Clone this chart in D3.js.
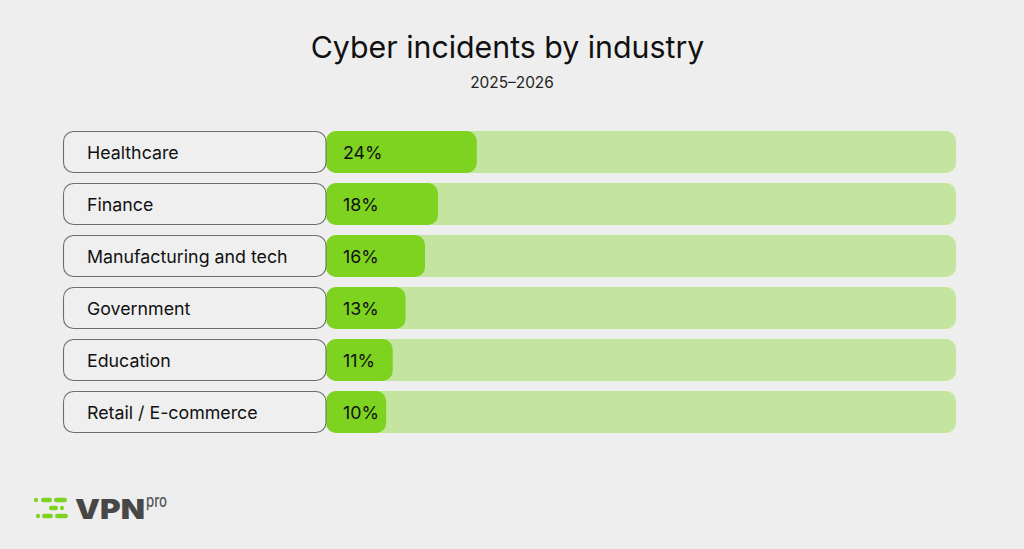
<!DOCTYPE html>
<html>
<head>
<meta charset="utf-8">
<script src="https://cdn.jsdelivr.net/npm/d3@7"></script>
<style>
  html, body { margin: 0; padding: 0; background: #eeeeee; }
  svg { display: block; }
  text { font-family: Inter, "Noto Sans", sans-serif; }
</style>
</head>
<body>
<svg id="chart" width="1024" height="549"></svg>
<script>
const categories = ["Healthcare", "Finance", "Manufacturing and tech", "Government", "Education", "Retail / E-commerce"];
const values = [24, 18, 16, 13, 11, 10];
const valueLabels = ["24%", "18%", "16%", "13%", "11%", "10%"];
const title = "Cyber incidents by industry";
const subtitle = "2025–2026";

const W = 1024, H = 549;
const svg = d3.select("#chart");
svg.append("rect").attr("width", W).attr("height", H).attr("fill", "#eeeeee");

svg.append("text").attr("x", 507.5).attr("y", 58).attr("text-anchor", "middle")
  .attr("font-size", 30.3).attr("fill", "#111").text(title);
svg.append("text").attr("x", 512).attr("y", 88).attr("text-anchor", "middle")
  .attr("font-size", 15.4).attr("fill", "#222").text(subtitle);

const y = d3.scaleBand().domain(categories).range([131, 433]).paddingInner(10 / 52).paddingOuter(0);
const track = d3.scaleLinear().domain([0, 100]).range([326, 956]);
const x = d3.scaleLinear().domain([0, 100]).range([321.5, 968.5]);

const rows = svg.selectAll("g.row").data(categories).join("g").attr("class", "row");

// track
rows.append("rect")
  .attr("x", track(0)).attr("y", d => y(d))
  .attr("width", track(100) - track(0)).attr("height", y.bandwidth())
  .attr("rx", 10).attr("fill", "#c4e59f");

// bar
rows.append("rect")
  .attr("x", track(0)).attr("y", d => y(d))
  .attr("width", (d, i) => x(values[i]) - track(0)).attr("height", y.bandwidth())
  .attr("rx", 10).attr("fill", "#7ed321");

// label box
rows.append("rect")
  .attr("x", 63.5).attr("y", d => y(d) + 0.5)
  .attr("width", track(0) - 63.5).attr("height", y.bandwidth() - 1)
  .attr("rx", 10).attr("fill", "#efefef").attr("stroke", "#6e6e6e").attr("stroke-width", 1.1);

rows.append("text")
  .attr("x", 87).attr("y", d => y(d) + y.bandwidth() / 2)
  .attr("dy", "0.42em").attr("font-size", 17.8).attr("fill", "#111").text(d => d);

rows.append("text")
  .attr("x", track(0) + 17).attr("y", d => y(d) + y.bandwidth() / 2)
  .attr("dy", "0.42em").attr("font-size", 17.8).attr("fill", "#111")
  .text((d, i) => valueLabels[i]);

// logo
const logo = svg.append("g");
const green = "#7ed321";
const seg = [
  [34, 500, 4], [41, 500, 11], [54, 500, 13],
  [49, 508, 9], [60, 508, 4],
  [36, 516, 4], [42, 516, 11], [55, 516, 13]
];
seg.forEach(s => {
  logo.append("rect").attr("x", s[0]).attr("y", s[1] - 2.2).attr("width", s[2]).attr("height", 4.4)
    .attr("rx", 2.2).attr("fill", green);
});
logo.append("text").attr("x", 75).attr("y", 519).attr("font-size", 27.5).attr("font-weight", 900)
  .attr("fill", "#474747").attr("textLength", 70).attr("lengthAdjust", "spacingAndGlyphs").text("VPN");
logo.append("text").attr("x", 146).attr("y", 507).attr("font-size", 17).attr("font-weight", 500)
  .attr("fill", "#555").attr("textLength", 21).attr("lengthAdjust", "spacingAndGlyphs").text("pro");
</script>
</body>
</html>
